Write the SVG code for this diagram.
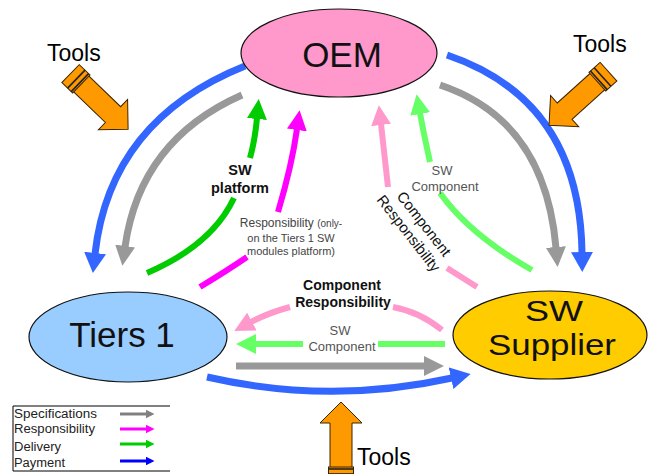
<svg xmlns="http://www.w3.org/2000/svg" width="657" height="474" viewBox="0 0 657 474">
<style>
text{font-family:"Liberation Sans",Arial,sans-serif;}
.node{stroke:#111;stroke-width:1.2;}
.big{font-size:35px;fill:#111;text-anchor:middle;}
.lbl{font-size:13px;fill:#555;text-anchor:middle;}
.blk{font-size:14px;fill:#111;font-weight:bold;text-anchor:middle;}
.tools{font-size:23px;fill:#000;}
.leg{font-size:12.5px;fill:#222;}
.c{fill:none;stroke-linecap:butt;}
.blue{stroke:#3366ff;stroke-width:7;}
.gray{stroke:#999;stroke-width:7;}
.dg{stroke:#00cc00;stroke-width:6;}
.lg{stroke:#66ff66;stroke-width:6;}
.mg{stroke:#ff00ff;stroke-width:6;}
.pk{stroke:#ff99cc;stroke-width:6;}
.tool{fill:#ff9900;stroke:#3a2400;stroke-width:1;}
</style>
<defs>
<marker id="hBlue" markerUnits="userSpaceOnUse" viewBox="0 0 20 22" markerWidth="20" markerHeight="22" refX="1" refY="11" orient="auto"><path d="M0,0 L20,11 L0,22 z" fill="#3366ff"/></marker>
<marker id="hGray" markerUnits="userSpaceOnUse" viewBox="0 0 20 20" markerWidth="20" markerHeight="20" refX="1" refY="10" orient="auto"><path d="M0,0 L20,10 L0,20 z" fill="#999"/></marker>
<marker id="hDg" markerUnits="userSpaceOnUse" viewBox="0 0 20 20" markerWidth="20" markerHeight="20" refX="1" refY="10" orient="auto"><path d="M0,0 L20,10 L0,20 z" fill="#00cc00"/></marker>
<marker id="hLg" markerUnits="userSpaceOnUse" viewBox="0 0 20 20" markerWidth="20" markerHeight="20" refX="1" refY="10" orient="auto"><path d="M0,0 L20,10 L0,20 z" fill="#66ff66"/></marker>
<marker id="hMg" markerUnits="userSpaceOnUse" viewBox="0 0 20 20" markerWidth="20" markerHeight="20" refX="1" refY="10" orient="auto"><path d="M0,0 L20,10 L0,20 z" fill="#ff00ff"/></marker>
<marker id="hPk" markerUnits="userSpaceOnUse" viewBox="0 0 20 20" markerWidth="20" markerHeight="20" refX="1" refY="10" orient="auto"><path d="M0,0 L20,10 L0,20 z" fill="#ff99cc"/></marker>
<marker id="sGray" markerUnits="userSpaceOnUse" viewBox="0 0 9 9" markerWidth="9" markerHeight="9" refX="0.5" refY="4.5" orient="auto"><path d="M0,0 L9,4.5 L0,9 z" fill="#808080"/></marker>
<marker id="sMg" markerUnits="userSpaceOnUse" viewBox="0 0 9 9" markerWidth="9" markerHeight="9" refX="0.5" refY="4.5" orient="auto"><path d="M0,0 L9,4.5 L0,9 z" fill="#ff00ff"/></marker>
<marker id="sDg" markerUnits="userSpaceOnUse" viewBox="0 0 9 9" markerWidth="9" markerHeight="9" refX="0.5" refY="4.5" orient="auto"><path d="M0,0 L9,4.5 L0,9 z" fill="#00cc00"/></marker>
<marker id="sBl" markerUnits="userSpaceOnUse" viewBox="0 0 9 9" markerWidth="9" markerHeight="9" refX="0.5" refY="4.5" orient="auto"><path d="M0,0 L9,4.5 L0,9 z" fill="#0000ff"/></marker>
<g id="toolShape">
<polygon class="tool" points="0,-11 57,-11 57,-21 78,0 57,21 57,11 0,11"/>
<rect class="tool" x="-2" y="-12.5" width="15" height="25"/>
<line x1="6" y1="-12.5" x2="6" y2="12.5" stroke="#222" stroke-width="1.6"/>
<line x1="11" y1="-12.5" x2="11" y2="12.5" stroke="#222" stroke-width="1.6"/>
</g>
</defs>
<rect width="657" height="474" fill="#fff"/>

<g id="connectors">
<path class="c blue" d="M245,66 Q110,120 95,254" marker-end="url(#hBlue)"/>
<path class="c gray" d="M242,95 Q140,140 125,247" marker-end="url(#hGray)"/>
<path class="c blue" d="M447,55 Q580,100 582,253" marker-end="url(#hBlue)"/>
<path class="c gray" d="M440,85 Q545,120 556,248" marker-end="url(#hGray)"/>
<path class="c dg" d="M147,273 Q212,245 234,198"/>
<path class="c dg" d="M250,158 Q255,140 257,118" marker-end="url(#hDg)"/>
<path class="c mg" d="M200,287 Q228,270 247,257"/>
<path class="c mg" d="M278,212 Q292,165 297,129" marker-end="url(#hMg)"/>
<path class="c lg" d="M532,270 Q470,235 440,193"/>
<path class="c lg" d="M430,162 Q424,135 420,113" marker-end="url(#hLg)"/>
<path class="c pk" d="M388,187 Q384,150 381,124" marker-end="url(#hPk)"/>
<path class="c pk" d="M447,268 L477,287"/>
<path class="c pk" d="M442,330 Q420,312 393,307"/>
<path class="c pk" d="M290,307 Q268,313 251,322" marker-end="url(#hPk)"/>
<path class="c lg" d="M445,344 L378,344"/>
<path class="c lg" d="M303,344 L255,344" marker-end="url(#hLg)"/>
<path class="c gray" d="M236,366 L425,366" marker-end="url(#hGray)"/>
<path class="c blue" d="M207,377 Q330,405 452,378" marker-end="url(#hBlue)"/>
</g>

<g id="connector-labels">
<text class="blk" x="240" y="175" style="font-size:14.5px">SW</text>
<text class="blk" x="240" y="193" style="font-size:14.5px">platform</text>
<text class="lbl" x="291" y="227" style="fill:#444"><tspan style="font-size:12px">Responsibility </tspan><tspan style="font-size:10px">(only-</tspan></text>
<text class="lbl" x="291" y="242" style="font-size:11px;fill:#444">on the Tiers 1 SW</text>
<text class="lbl" x="291" y="255" style="font-size:11px;fill:#444">modules platform)</text>
<text class="lbl" x="442" y="175">SW</text>
<text class="lbl" x="445" y="191">Component</text>
<text transform="translate(420,227) rotate(52)" style="font-size:15px;fill:#111;text-anchor:middle"><tspan x="0" y="0">Component</tspan><tspan x="-2" y="18">Responsibility</tspan></text>
<text class="blk" x="342" y="290">Component</text>
<text class="blk" x="343" y="307">Responsibility</text>
<text class="lbl" x="340" y="335">SW</text>
<text class="lbl" x="342" y="351">Component</text>
</g>

<g id="oem">
<ellipse class="node" cx="339" cy="53" rx="98" ry="44" fill="#ff99cc"/>
<text class="big" x="342" y="67">OEM</text>
</g>
<g id="tiers1">
<ellipse class="node" cx="128" cy="337" rx="99" ry="45" fill="#99ccff"/>
<text class="big" x="122" y="347">Tiers 1</text>
</g>
<g id="sw-supplier">
<ellipse class="node" cx="550" cy="335" rx="97" ry="44" fill="#ffcc00"/>
<text class="big" x="554" y="321" style="font-size:29px" textLength="58" lengthAdjust="spacingAndGlyphs">SW</text>
<text class="big" x="552" y="355" style="font-size:29px" textLength="128" lengthAdjust="spacingAndGlyphs">Supplier</text>
</g>

<g id="tools-left">
<use href="#toolShape" transform="translate(72,75) rotate(44)"/>
<text class="tools" x="47" y="61">Tools</text>
</g>
<g id="tools-right">
<use href="#toolShape" transform="translate(607,73) rotate(138)"/>
<text class="tools" x="573" y="52">Tools</text>
</g>
<g id="tools-bottom">
<use href="#toolShape" transform="translate(341,480) rotate(-90)"/>
<text class="tools" x="357" y="465">Tools</text>
</g>

<g id="legend">
<path d="M170,406 H13 V471 H170" fill="none" stroke="#000" stroke-width="1"/>
<text class="leg" x="14" y="418" textLength="83" lengthAdjust="spacingAndGlyphs">Specifications</text>
<text class="leg" x="14" y="433" textLength="81" lengthAdjust="spacingAndGlyphs">Responsibility</text>
<text class="leg" x="14" y="451" textLength="47" lengthAdjust="spacingAndGlyphs">Delivery</text>
<text class="leg" x="14" y="467" textLength="51" lengthAdjust="spacingAndGlyphs">Payment</text>
<path d="M120,414 H146" stroke="#808080" stroke-width="3" marker-end="url(#sGray)"/>
<path d="M120,429 H146" stroke="#ff00ff" stroke-width="3" marker-end="url(#sMg)"/>
<path d="M120,444 H146" stroke="#00cc00" stroke-width="3" marker-end="url(#sDg)"/>
<path d="M120,461 H146" stroke="#0000ff" stroke-width="3" marker-end="url(#sBl)"/>
</g>
</svg>
